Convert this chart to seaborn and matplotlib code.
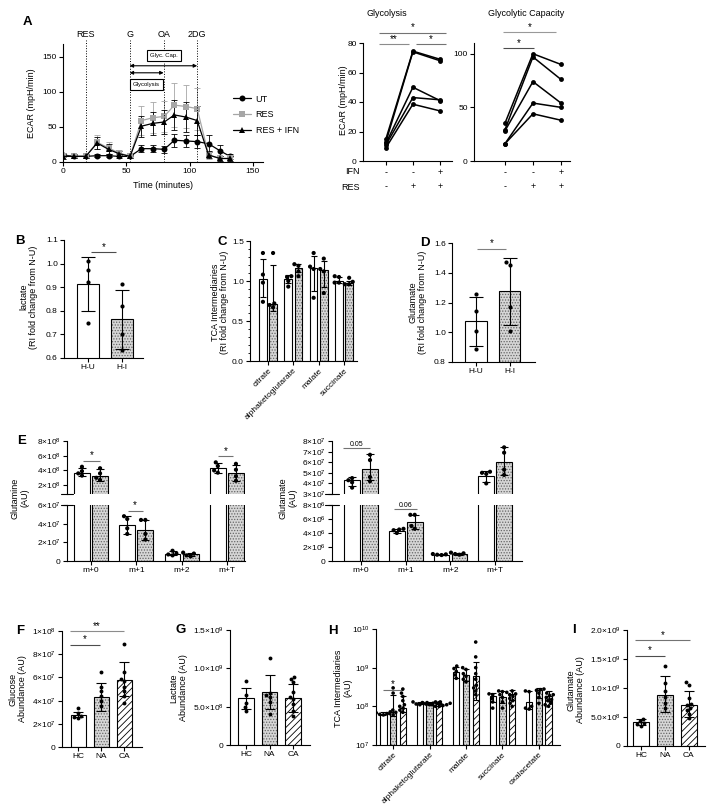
"""
plot
---------------------------------------------------------------------
Rebuilds the multi-panel ECAR / metabolite figure (panels A-I)
"""
import numpy as np
import pandas as pd
import matplotlib
matplotlib.use("Agg")
import matplotlib.pyplot as plt
import matplotlib.ticker as mticker
from matplotlib.patches import Rectangle
import seaborn as sns

# ---- A: ECAR time course
TIME_MIN = [0, 9, 18, 27, 36, 44, 53, 62, 71, 80, 88, 97, 106, 115, 124, 132]
ECAR_UT = [10, 8, 8, 9, 9, 8, 8, 19, 19, 18, 31, 30, 29, 26, 16, 8]
SEM_UT = [3, 2, 2, 2, 2, 2, 2, 5, 5, 5, 9, 9, 9, 12, 8, 4]
ECAR_RES = [8, 8, 8, 28, 20, 13, 8, 59, 63, 65, 81, 79, 76, 10, 5, 5]
SEM_RES = [4, 3, 3, 10, 9, 4, 3, 21, 22, 22, 31, 30, 30, 6, 3, 3]
ECAR_RESIFN = [8, 8, 8, 27, 18, 12, 8, 51, 55, 57, 67, 64, 59, 10, 5, 5]
SEM_RESIFN = [4, 3, 3, 8, 7, 4, 3, 15, 16, 17, 21, 21, 21, 5, 3, 3]
TC_GROUPS = ["UT", "RES", "RES + IFN"]
INJECTIONS = [18, 52.6, 79.5, 106]
INJECTION_LABELS = ["RES", "G", "OA", "2DG"]

# ---- A: per-donor glycolysis / glycolytic capacity (UT, RES, RES+IFN)
GLYC_UT = [15, 13, 12, 11, 9]
GLYC_RES = [74.5, 74, 50, 43, 38.5]
GLYC_RESIFN = [69, 68, 41, 41.5, 34]
CAP_UT = [35, 29, 28, 16, 16]
CAP_RES = [100, 97, 74, 54, 44]
CAP_RESIFN = [90, 76, 54, 50, 38]
IFN_ROW = ["-", "-", "+"]
RES_ROW = ["-", "+", "+"]

# ---- B / D: lactate and glutamate fold change
HUHI = ["H-U", "H-I"]
LAC_FC = [0.915, 0.765]
LAC_FC_LO = [0.80, 0.64]
LAC_FC_HI = [1.03, 0.89]
LAC_FC_PTS = [[1.01, 0.975, 0.92, 0.75], [0.915, 0.82, 0.70, 0.635]]
GLU_FC = [1.075, 1.275]
GLU_FC_LO = [0.91, 1.05]
GLU_FC_HI = [1.24, 1.50]
GLU_FC_PTS = [[1.26, 1.14, 1.01, 0.89], [1.47, 1.455, 1.17, 1.01]]

# ---- C: TCA fold change
TCA_FC_GROUPS = ["citrate", "alphaketoglutarate", "malate", "succinate"]
TCA_FC_HU = [1.02, 1.02, 1.16, 1.00]
TCA_FC_HU_LO = [0.80, 0.97, 0.88, 0.98]
TCA_FC_HU_HI = [1.28, 1.07, 1.31, 1.05]
TCA_FC_HI = [0.71, 1.16, 1.14, 0.97]
TCA_FC_HI_LO = [0.62, 1.11, 0.92, 0.955]
TCA_FC_HI_HI = [1.20, 1.21, 1.25, 1.00]
TCA_FC_HU_PTS = [[1.35, 1.08, 0.98, 0.74], [1.06, 1.05, 1.0, 0.93],
                 [1.35, 1.18, 1.15, 0.79], [1.06, 1.05, 0.98, 0.98]]
TCA_FC_HI_PTS = [[1.35, 0.72, 0.70, 0.67], [1.21, 1.19, 1.12, 1.06],
                 [1.28, 1.15, 1.12, 0.85], [1.04, 0.99, 0.96, 0.96]]

# ---- E: isotopologues
ISO = ["m+0", "m+1", "m+2", "m+T"]
GLN_HU = [3.7e8, 3.9e7, 0.8e7, 4.3e8]
GLN_HU_LO = [3.2e8, 2.9e7, 0.6e7, 3.6e8]
GLN_HU_HI = [4.4e8, 4.8e7, 1.05e7, 5.0e8]
GLN_HI = [3.2e8, 3.3e7, 0.7e7, 3.6e8]
GLN_HI_LO = [2.6e8, 2.2e7, 0.5e7, 2.6e8]
GLN_HI_HI = [4.2e8, 4.4e7, 0.9e7, 4.8e8]
GLN_HU_PTS = [[4.5e8, 3.9e8, 3.6e8, 3.3e8], [4.8e7, 4.5e7, 3.5e7, 2.9e7],
              [1.1e7, 0.8e7, 0.7e7, 0.6e7], [5.1e8, 4.6e8, 4.0e8, 3.7e8]]
GLN_HI_PTS = [[4.3e8, 3.6e8, 3.0e8, 2.7e8], [4.4e7, 4.4e7, 2.9e7, 2.3e7],
              [0.9e7, 0.8e7, 0.6e7, 0.5e7], [4.9e8, 4.1e8, 3.2e8, 2.6e8]]
GLU_HU = [4.3e7, 4.3e6, 0.9e6, 4.7e7]
GLU_HU_LO = [3.8e7, 4.0e6, 0.8e6, 4.1e7]
GLU_HU_HI = [4.6e7, 4.6e6, 1.0e6, 5.2e7]
GLU_HI = [5.4e7, 5.6e6, 1.0e6, 6.0e7]
GLU_HI_LO = [4.3e7, 4.6e6, 0.8e6, 4.8e7]
GLU_HI_HI = [6.8e7, 6.6e6, 1.2e6, 7.4e7]
GLU_HU_PTS = [[4.5e7, 4.3e7, 4.1e7, 3.6e7], [4.6e6, 4.5e6, 4.4e6, 4.0e6],
              [1.0e6, 0.95e6, 0.9e6, 0.85e6], [5.1e7, 5.0e7, 4.9e7, 4.0e7]]
GLU_HI_PTS = [[6.7e7, 6.2e7, 4.6e7, 4.2e7], [6.6e6, 6.6e6, 5.0e6, 4.6e6],
              [1.2e6, 1.1e6, 1.0e6, 0.9e6], [7.4e7, 6.9e7, 5.3e7, 4.8e7]]

# ---- F / G / I: abundances in HC, NA, CA
COHORTS = ["HC", "NA", "CA"]
GLC = [2.8e7, 4.3e7, 5.8e7]
GLC_LO = [2.6e7, 3.1e7, 4.4e7]
GLC_HI = [3.0e7, 5.55e7, 7.3e7]
GLC_PTS = [[3.4e7, 2.9e7, 2.7e7, 2.6e7, 2.5e7],
           [6.5e7, 5.2e7, 4.8e7, 4.4e7, 4.0e7, 3.5e7],
           [8.9e7, 6.45e7, 5.9e7, 5.7e7, 5.2e7, 4.8e7, 4.4e7, 3.8e7]]
LAC = [6.1e8, 6.9e8, 6.1e8]
LAC_LO = [4.7e8, 4.7e8, 4.3e8]
LAC_HI = [7.5e8, 9.1e8, 8.0e8]
LAC_PTS = [[8.4e8, 6.5e8, 5.5e8, 5.0e8, 4.5e8],
           [11.3e8, 6.8e8, 6.5e8, 6.3e8, 5.6e8, 4.0e8],
           [8.9e8, 8.6e8, 8.2e8, 6.9e8, 6.3e8, 6.0e8, 5.4e8, 4.5e8, 3.8e8]]
GLUT = [4.1e8, 8.8e8, 7.0e8]
GLUT_LO = [3.6e8, 5.9e8, 5.0e8]
GLUT_HI = [4.6e8, 1.2e9, 9.5e8]
GLUT_PTS = [[4.7e8, 4.3e8, 4.0e8, 3.8e8, 3.5e8],
            [1.38e9, 1.08e9, 9.4e8, 8.5e8, 7.4e8, 6.5e8],
            [1.11e9, 1.06e9, 8.3e8, 7.3e8, 7.0e8, 6.6e8, 6.2e8, 5.6e8, 4.9e8]]

# ---- H: TCA intermediates (log)
TCA_GROUPS = ["citrate", "alphaketoglutarate", "malate", "succinate", "oxalacetate"]
TCA_HC = [6.5e7, 1.2e8, 7.7e8, 1.8e8, 1.3e8]
TCA_HC_LO = [6.0e7, 1.15e8, 5.5e8, 1.3e8, 8.5e7]
TCA_HC_HI = [7.2e7, 1.3e8, 1.05e9, 2.2e8, 2.5e8]
TCA_NA = [7.0e7, 1.2e8, 6.3e8, 1.75e8, 2.6e8]
TCA_NA_LO = [5.5e7, 1.15e8, 4.6e8, 1.2e8, 1.6e8]
TCA_NA_HI = [2.0e8, 1.3e8, 9.5e8, 2.5e8, 3.0e8]
TCA_CA = [9.0e7, 1.15e8, 6.0e8, 2.1e8, 1.9e8]
TCA_CA_LO = [7.0e7, 1.05e8, 1.5e8, 1.5e8, 1.4e8]
TCA_CA_HI = [1.9e8, 1.25e8, 1.4e9, 2.6e8, 2.5e8]
TCA_HC_PTS = [[7.2e7, 6.8e7, 6.5e7, 6.2e7, 6.0e7], [1.3e8, 1.25e8, 1.2e8, 1.15e8, 1.1e8],
              [1.1e9, 9.5e8, 8e8, 6.5e8, 5.3e8], [2.1e8, 2.0e8, 1.6e8, 1.3e8, 9e7],
              [2.5e8, 2.4e8, 1.0e8, 9e7, 8.5e7]]
TCA_NA_PTS = [[3e8, 2.2e8, 8e7, 7e7, 6.5e7, 6e7], [1.3e8, 1.25e8, 1.2e8, 1.2e8, 1.15e8, 1.1e8],
              [1.0e9, 9e8, 7e8, 6e8, 5e8, 4.3e8], [2.5e8, 2.4e8, 2.0e8, 1.7e8, 1.3e8, 9e7],
              [2.8e8, 2.7e8, 2.6e8, 2.2e8, 1.7e8, 1.2e8]]
TCA_CA_PTS = [[2.8e8, 2.2e8, 1.8e8, 1.4e8, 1.1e8, 1e8, 9e7, 8e7, 7e7],
              [1.3e8, 1.25e8, 1.2e8, 1.15e8, 1.1e8, 1.1e8, 1.05e8, 1.0e8, 1.0e8],
              [4.6e9, 1.9e9, 1.0e9, 7e8, 5e8, 3.5e8, 3e8, 2.5e8, 2e8],
              [2.5e8, 2.3e8, 2.1e8, 2.0e8, 1.8e8, 1.6e8, 1.4e8, 1.2e8, 1.0e8],
              [2.2e8, 2.0e8, 1.9e8, 1.7e8, 1.5e8, 1.4e8, 1.2e8, 1.1e8, 1.0e8]]

W, H = 714, 811

sns.set_style("ticks")
plt.rcParams["font.family"] = ["Liberation Sans", "DejaVu Sans"]
plt.rcParams.update({
    "font.size": 6, "axes.linewidth": 0.8, "axes.edgecolor": "black",
    "xtick.color": "black", "ytick.color": "black", "text.color": "black",
    "xtick.major.width": 0.8, "ytick.major.width": 0.8,
    "xtick.major.size": 3, "ytick.major.size": 3,
    "xtick.labelsize": 6, "ytick.labelsize": 6,
    "xtick.major.pad": 1.5, "ytick.major.pad": 1.5,
    "hatch.linewidth": 0.6, "mathtext.fontset": "custom",
    "mathtext.rm": "Liberation Sans", "mathtext.it": "Liberation Sans:italic",
    "mathtext.bf": "Liberation Sans:bold",
})

fig = plt.figure(figsize=(W / 100, H / 100), dpi=100)


def add_ax(l, t, r, b):
    ax = fig.add_axes([l / W, 1 - b / H, (r - l) / W, (b - t) / H])
    sns.despine(ax=ax)
    return ax


def ftext(x, y, s, **kw):
    kw.setdefault("ha", "center")
    kw.setdefault("va", "center")
    fig.text(x / W, 1 - y / H, s, **kw)


def ylab(x, y, s):
    ftext(x, y, s, rotation=90, fontsize=6.5, multialignment="center", linespacing=1.1)


def sci(decimals=0):
    def fmt(v, pos):
        if v == 0:
            return "0"
        e = int(np.floor(np.log10(abs(v)) + 1e-9))
        return rf"${v / 10 ** e:.{decimals}f}{{\times}}10^{{{e}}}$"
    return mticker.FuncFormatter(fmt)


def style_bar(ax, p, kind):
    if kind == "dot":
        p.set_facecolor("0.84")
        p.set_edgecolor("0.4")
        p.set_hatch("......")
        p.set_linewidth(0)
        ax.add_patch(Rectangle(p.get_xy(), p.get_width(), p.get_height(), fill=False,
                               edgecolor="black", linewidth=0.8, zorder=p.get_zorder()))
    elif kind == "hatch":
        p.set_facecolor("white")
        p.set_hatch("/////")
        p.set_edgecolor("black")
    else:
        p.set_facecolor("white")
        p.set_edgecolor("black")


def bar_panel(ax, cats, means, lo, hi, pts, kinds, capsize=3.5, size=3):
    sns.barplot(x=cats, y=means, order=cats, color="white", width=0.65, errorbar=None,
                edgecolor="black", linewidth=0.8, ax=ax)
    bars = list(ax.patches)
    for p, k in zip(bars, kinds):
        style_bar(ax, p, k)
    xs = [p.get_x() + p.get_width() / 2 for p in bars]
    ax.errorbar(xs, means, yerr=[np.subtract(means, lo), np.subtract(hi, means)], fmt="none",
                ecolor="black", elinewidth=0.8, capsize=capsize, capthick=0.8, zorder=3)
    pdf = pd.DataFrame({"cat": [c for c, v in zip(cats, pts) for _ in v],
                        "val": [x for v in pts for x in v]})
    sns.swarmplot(data=pdf, x="cat", y="val", order=cats, color="black", size=size,
                  ax=ax, zorder=4)
    ax.set_xlabel("")
    ax.set_ylabel("")


def dodge_panel(ax, groups, conds, means, los, his, pts, kinds, gap, capsize, size=3):
    bdf = pd.DataFrame({"group": [g for _ in conds for g in groups],
                        "cond": [c for c in conds for _ in groups],
                        "val": [v for m in means for v in m]})
    sns.barplot(data=bdf, x="group", y="val", hue="cond", order=groups, hue_order=conds,
                palette={c: "white" for c in conds}, width=0.8, gap=gap, errorbar=None,
                edgecolor="black", linewidth=0.8, legend=False, ax=ax)
    conts = list(ax.containers)[:len(conds)]
    for cont, kind, m, lo, hi in zip(conts, kinds, means, los, his):
        bars = list(cont)
        for p in bars:
            style_bar(ax, p, kind)
        xs = [p.get_x() + p.get_width() / 2 for p in bars]
        ax.errorbar(xs, m, yerr=[np.subtract(m, lo), np.subtract(hi, m)], fmt="none",
                    ecolor="black", elinewidth=0.8, capsize=capsize, capthick=0.8, zorder=3)
    pdf = pd.DataFrame({
        "group": [g for cp in pts for g, v in zip(groups, cp) for _ in v],
        "cond": [c for c, cp in zip(conds, pts) for v in cp for _ in v],
        "val": [x for cp in pts for v in cp for x in v]})
    sns.swarmplot(data=pdf, x="group", y="val", hue="cond", order=groups, hue_order=conds,
                  dodge=True, palette={c: "black" for c in conds}, size=size, legend=False,
                  ax=ax, zorder=4)
    ax.set_xlabel("")
    ax.set_ylabel("")


def sig(ax, x0, x1, y, label, color="0.45", fs=7):
    ax.plot([x0, x1], [y, y], color=color, lw=0.8, clip_on=False, solid_capstyle="butt")
    ax.annotate(label, xy=((x0 + x1) / 2, y), xytext=(0, 0.3), textcoords="offset points",
                ha="center", va="bottom", fontsize=fs, annotation_clip=False)


def rotate_labels(ax):
    for lab in ax.get_xticklabels():
        lab.set_rotation(45)
        lab.set_ha("right")
        lab.set_rotation_mode("anchor")


# ================= A : time course
ax = add_ax(63, 44, 263, 162)
n = len(TIME_MIN)
tc = pd.DataFrame({"time": TIME_MIN * 3,
                   "ecar": ECAR_UT + ECAR_RES + ECAR_RESIFN,
                   "group": [g for g in TC_GROUPS for _ in range(n)]})
tc_colors = {"UT": "black", "RES": "#a6a6a6", "RES + IFN": "black"}
for g, sem, col in zip(TC_GROUPS, [SEM_UT, SEM_RES, SEM_RESIFN], tc_colors.values()):
    sub = tc[tc.group == g]
    ax.errorbar(sub.time, sub.ecar, yerr=sem, fmt="none", ecolor=col, elinewidth=0.6,
                capsize=2, capthick=0.6, zorder=1)
sns.lineplot(data=tc, x="time", y="ecar", hue="group", style="group", hue_order=TC_GROUPS,
             style_order=TC_GROUPS, palette=tc_colors,
             markers={"UT": "o", "RES": "s", "RES + IFN": "^"}, dashes=False,
             markersize=4.3, markeredgewidth=0, linewidth=0.9, ax=ax)
leg = ax.get_legend()
handles = leg.legend_handles
labels = [t.get_text() for t in leg.get_texts()]
for h in handles:
    h.set_markersize(4.3)
    h.set_markeredgewidth(0)
ax.legend(handles, labels, loc="center left", bbox_to_anchor=(0.81, 0.40), frameon=False,
          fontsize=6.5, handlelength=2.0, labelspacing=0.75, handletextpad=0.5)
ax.set_xlim(0, 158)
ax.set_ylim(0, 168)
ax.set_xticks([0, 50, 100, 150])
ax.set_yticks([0, 50, 100, 150])
ax.set_xlabel("")
ax.set_ylabel("")
for x, lab in zip(INJECTIONS, INJECTION_LABELS):
    ax.plot([x, x], [0, 174], ls=":", color="black", lw=0.7, clip_on=False)
    ax.text(x, 181, lab, ha="center", va="center", fontsize=6.5, clip_on=False)
ax.annotate("", xy=(INJECTIONS[1], 137), xytext=(INJECTIONS[3], 137),
            arrowprops=dict(arrowstyle="<|-|>", lw=0.8, color="black", mutation_scale=5,
                            shrinkA=0, shrinkB=0))
ax.annotate("", xy=(INJECTIONS[1], 127), xytext=(INJECTIONS[2], 127),
            arrowprops=dict(arrowstyle="<|-|>", lw=0.8, color="black", mutation_scale=5,
                            shrinkA=0, shrinkB=0))
box = dict(boxstyle="square,pad=0.5", fc="white", ec="black", lw=0.8)
ax.text(80, 152, "Glyc. Cap.", ha="center", va="center", fontsize=4.3, bbox=box)
ax.text(66, 110, "Glycolysis", ha="center", va="center", fontsize=4.3, bbox=box)
ylab(32, 103, "ECAR (mpH/min)")
ftext(163, 186, "Time (minutes)", fontsize=6.5)


def donor_panel(ax, ut, res, ifn, ylim, yticks):
    df = pd.DataFrame({
        "cond": [c for _ in ut for c in (0, 1, 2)],
        "ecar": [v for trio in zip(ut, res, ifn) for v in trio],
        "donor": [i for i in range(len(ut)) for _ in range(3)]})
    sns.lineplot(data=df, x="cond", y="ecar", units="donor", estimator=None, color="black",
                 marker="o", markersize=3.5, markeredgewidth=0, linewidth=1.1, ax=ax)
    ax.set_ylim(*ylim)
    ax.set_yticks(yticks)
    ax.set_xticks([0, 1, 2])
    ax.set_xticklabels([])
    tr = ax.get_xaxis_transform()
    for i, (a, b) in enumerate(zip(IFN_ROW, RES_ROW)):
        ax.text(i, -0.095, a, transform=tr, ha="center", va="center", fontsize=6.5)
        ax.text(i, -0.22, b, transform=tr, ha="center", va="center", fontsize=6.5)
    ax.set_xlabel("")
    ax.set_ylabel("")


ax = add_ax(363, 43, 452, 161)
donor_panel(ax, GLYC_UT, GLYC_RES, GLYC_RESIFN, (0, 80), [0, 20, 40, 60, 80])
ax.set_xlim(-0.85, 2.45)
sig(ax, -0.26, 2.22, 87, "*", color="0.45")
sig(ax, -0.26, 0.85, 79, "**", color="0.55")
sig(ax, 1.11, 2.22, 79, "*", color="0.45")
ylab(343, 100, "ECAR (mpH/min)")
ftext(387, 14, "Glycolysis", fontsize=6.5)
ftext(360, 172, "IFN", ha="right", fontsize=6.5)
ftext(360, 187, "RES", ha="right", fontsize=6.5)

ax = add_ax(474, 43, 570, 161)
donor_panel(ax, CAP_UT, CAP_RES, CAP_RESIFN, (0, 110), [0, 50, 100])
ax.set_xlim(-1.1, 2.32)
sig(ax, -0.07, 1.82, 120, "*", color="0.6")
sig(ax, -0.07, 1.04, 105, "*", color="0.3")
ftext(526, 14, "Glycolytic Capacity", fontsize=6.5)

# ================= B
ax = add_ax(64, 240, 143, 358)
bar_panel(ax, HUHI, LAC_FC, LAC_FC_LO, LAC_FC_HI, LAC_FC_PTS, ["open", "dot"], capsize=5)
ax.set_ylim(0.6, 1.1)
ax.set_yticks([0.6, 0.7, 0.8, 0.9, 1.0, 1.1])
ax.yaxis.set_major_formatter(mticker.FormatStrFormatter("%.1f"))
ax.set_xlim(-0.7, 1.62)
sig(ax, 0.09, 0.82, 1.049, "*", color="0.3")
ylab(29, 297, "lactate\n(RI fold change from N-U)")

# ================= C
ax = add_ax(250, 241, 357, 361)
dodge_panel(ax, TCA_FC_GROUPS, HUHI, [TCA_FC_HU, TCA_FC_HI], [TCA_FC_HU_LO, TCA_FC_HI_LO],
            [TCA_FC_HU_HI, TCA_FC_HI_HI], [TCA_FC_HU_PTS, TCA_FC_HI_PTS], ["open", "dot"],
            gap=0.25, capsize=2.5, size=3)
ax.set_ylim(0, 1.5)
ax.set_yticks([0, 0.5, 1.0, 1.5])
ax.yaxis.set_major_formatter(mticker.FormatStrFormatter("%.1f"))
ax.yaxis.set_minor_locator(mticker.MultipleLocator(0.1))
ax.tick_params(axis="y", which="minor", length=1.5, width=0.6)
ax.set_xlim(-0.71, 3.51)
rotate_labels(ax)
ylab(220, 302, "TCA Intermediaries\n(RI fold change from N-U)")

# ================= D
ax = add_ax(452, 243, 535, 362)
bar_panel(ax, HUHI, GLU_FC, GLU_FC_LO, GLU_FC_HI, GLU_FC_PTS, ["open", "dot"], capsize=5)
ax.set_ylim(0.8, 1.6)
ax.set_yticks([0.8, 1.0, 1.2, 1.4, 1.6])
ax.yaxis.set_major_formatter(mticker.FormatStrFormatter("%.1f"))
ax.set_xlim(-0.72, 1.76)
sig(ax, 0.03, 0.9, 1.56, "*", color="0.5")
ylab(418, 302, "Glutamate\n(RI fold change from N-U)")


# ================= E (broken axes)
def broken_pair(l, r, top_ylim, top_ticks, bot_ylim, bot_ticks, data, xlim):
    axt = add_ax(l, 441, r, 494)
    axb = add_ax(l, 505, r, 561)
    for a in (axt, axb):
        dodge_panel(a, ISO, HUHI, *data, ["open", "dot"], gap=0.125, capsize=3, size=3)
        a.set_xlim(*xlim)
        a.yaxis.set_major_formatter(sci(0))
    axt.set_ylim(*top_ylim)
    axt.set_yticks(top_ticks)
    axb.set_ylim(*bot_ylim)
    axb.set_yticks(bot_ticks)
    axt.spines["bottom"].set_visible(False)
    axt.tick_params(axis="x", bottom=False, labelbottom=False)
    axt.plot([-0.035, 0.035], [0, 0], transform=axt.transAxes, color="black", lw=0.8,
             clip_on=False)
    axb.plot([-0.035, 0.035], [1, 1], transform=axb.transAxes, color="black", lw=0.8,
             clip_on=False)
    return axt, axb


gln = ([GLN_HU, GLN_HI], [GLN_HU_LO, GLN_HI_LO], [GLN_HU_HI, GLN_HI_HI], [GLN_HU_PTS, GLN_HI_PTS])
axt, axb = broken_pair(67, 245, (0.8e8, 8e8), [2e8, 4e8, 6e8, 8e8], (0, 6e7),
                       [0, 2e7, 4e7, 6e7], gln, (-0.53, 3.4))
sig(axt, -0.18, 0.2, 5.3e8, "*")
sig(axb, 0.81, 1.14, 5.36e7, "*")
sig(axt, 2.8, 3.13, 5.9e8, "*")
ylab(20, 498, "Glutamine\n(AU)")

glu = ([GLU_HU, GLU_HI], [GLU_HU_LO, GLU_HI_LO], [GLU_HU_HI, GLU_HI_HI], [GLU_HU_PTS, GLU_HI_PTS])
axt, axb = broken_pair(332, 522, (3e7, 8e7), [3e7, 4e7, 5e7, 6e7, 7e7, 8e7], (0, 8e6),
                       [0, 2e6, 4e6, 6e6, 8e6], glu, (-0.65, 3.6))
sig(axt, -0.4, 0.2, 7.3e7, "0.05", fs=5)
sig(axb, 0.73, 1.25, 7.4e6, "0.06", fs=5)
ylab(288, 498, "Glutamate\n(AU)")

# ================= F
ax = add_ax(62, 631, 142, 747)
bar_panel(ax, COHORTS, GLC, GLC_LO, GLC_HI, GLC_PTS, ["open", "dot", "hatch"], capsize=3.5, size=2.8)
ax.set_ylim(0, 1e8)
ax.set_yticks([0, 2e7, 4e7, 6e7, 8e7, 1e8])
ax.yaxis.set_major_formatter(sci(0))
ax.set_xlim(-0.7, 2.78)
sig(ax, -0.35, 2.0, 1.0e8, "**", color="0.55")
sig(ax, -0.35, 0.96, 0.88e8, "*", color="0.3")
ylab(18, 689, "Glucose\nAbundance (AU)")

# ================= G
ax = add_ax(230, 630, 310, 745)
bar_panel(ax, COHORTS, LAC, LAC_LO, LAC_HI, LAC_PTS, ["open", "dot", "hatch"], capsize=3.5, size=2.8)
ax.set_ylim(0, 1.5e9)
ax.set_yticks([0, 5e8, 1e9, 1.5e9])
ax.yaxis.set_major_formatter(sci(1))
ax.set_xlim(-0.68, 2.72)
ylab(179, 688, "Lactate\nAbundance (AU)")

# ================= H
ax = add_ax(376, 629, 560, 745)
ax.set_yscale("log")
dodge_panel(ax, TCA_GROUPS, COHORTS, [TCA_HC, TCA_NA, TCA_CA], [TCA_HC_LO, TCA_NA_LO, TCA_CA_LO],
            [TCA_HC_HI, TCA_NA_HI, TCA_CA_HI], [TCA_HC_PTS, TCA_NA_PTS, TCA_CA_PTS],
            ["open", "dot", "hatch"], gap=0.36, capsize=2, size=2.6)
ax.set_ylim(1e7, 1e10)
ax.yaxis.set_major_locator(mticker.LogLocator(base=10, numticks=5))
ax.yaxis.set_minor_locator(mticker.NullLocator())
ax.set_xlim(-0.47, 4.58)
rotate_labels(ax)
sig(ax, -0.28, 0.28, 2.7e8, "*", color="0.45")
ylab(343, 688, "TCA Intermediaries\n(AU)")

# ================= I
ax = add_ax(627, 630, 705, 746)
bar_panel(ax, COHORTS, GLUT, GLUT_LO, GLUT_HI, GLUT_PTS, ["open", "dot", "hatch"], capsize=3.5, size=2.8)
ax.set_ylim(0, 2e9)
ax.set_yticks([0, 5e8, 1e9, 1.5e9, 2e9])
ax.yaxis.set_major_formatter(sci(1))
ax.set_xlim(-0.58, 2.67)
sig(ax, -0.25, 2.04, 1.82e9, "*", color="0.45")
sig(ax, -0.25, 1.0, 1.56e9, "*", color="0.3")
ylab(576, 690, "Glutamate\nAbundance (AU)")

# panel letters
for letter, x, y in [("A", 27, 22), ("B", 20, 241), ("C", 222, 242), ("D", 425, 243),
                     ("E", 22, 441), ("F", 20, 631), ("G", 181, 630), ("H", 333, 631),
                     ("I", 574, 630)]:
    ftext(x, y, letter, fontsize=9.5, fontweight="bold")

fig.savefig("out.png", dpi=100)
